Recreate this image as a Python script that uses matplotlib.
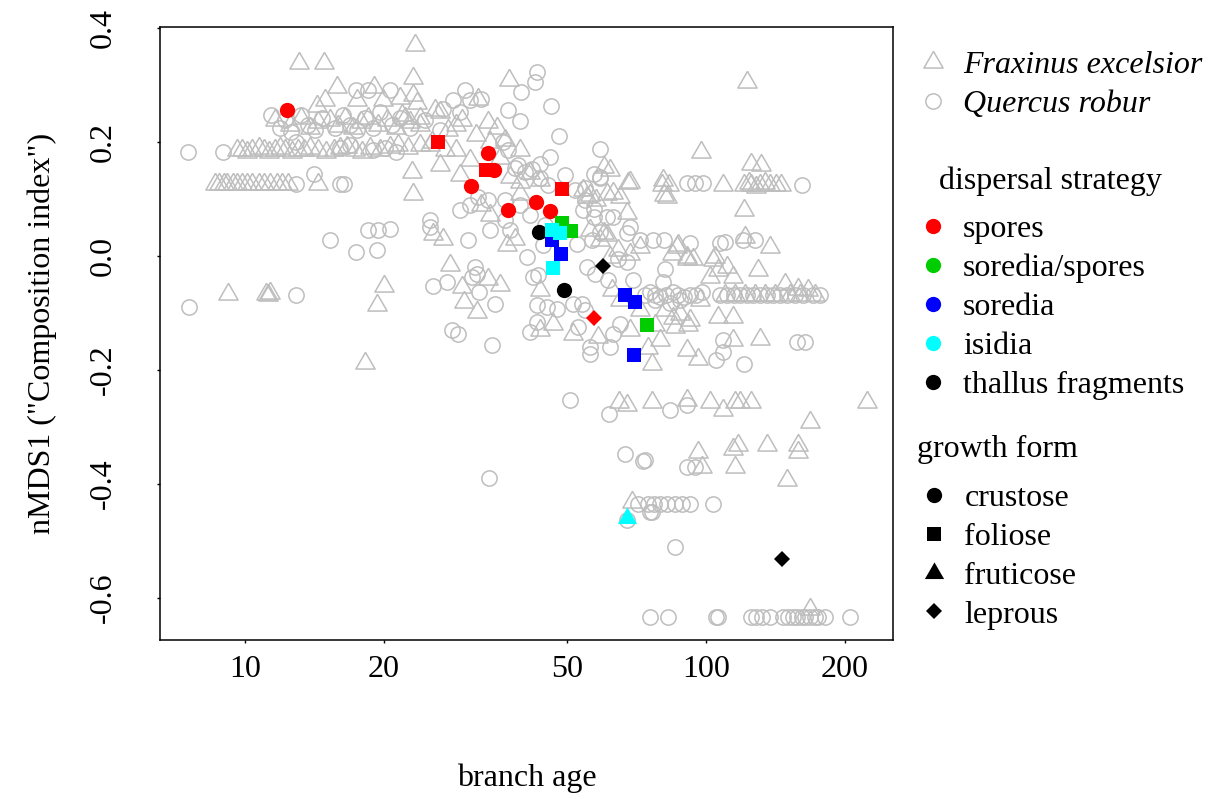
import matplotlib
matplotlib.use("Agg")
import matplotlib.pyplot as plt
from matplotlib.lines import Line2D
import numpy as np

plt.rcParams['font.family'] = ['Liberation Serif', 'DejaVu Serif']

# branch age / nMDS1 of every sampled branch, per tree species
fraxinus = [
    (13.1, .339), (14.8, .339), (23.4, .370), (15.8, .296), (19.0, .296), (37.4, .309),
    (23.1, .312), (23.1, .282), (14.9, .274), (14.3, .263), (17.5, .274), (19.9, .274),
    (21.7, .277), (23.6, .268),
    (22.2, .242), (24.0, .230), (26.5, .253), (27.6, .221), (29.6, .239), (31.6, .212),
    (35.2, .225), (36.7, .204), (25.2, .195), (28.6, .186), (30.8, .168), (35.7, .172),
    (39.5, .186), (23.0, .147), (23.1, .109), (26.5, .160), (34.0, .072), (39.5, .109),
    (43.6, .133), (32.4, .089), (29.3, .142), (32.0, .275), (33.6, .235), (34.0, .200),
    (25.8, .256), (28.6, .230),
    (11.6, .239), (12.5, .230), (13.2, .242), (13.8, .225), (14.4, .235), (15.3, .239),
    (15.9, .228), (16.5, .242), (17.1, .225), (17.8, .235), (18.5, .242), (19.4, .230),
    (20.3, .239), (21.2, .225), (21.9, .247), (22.8, .235), (24.0, .242),
    (9.6, .186), (9.85, .186), (10.1, .183), (10.35, .186), (10.7, .189), (11.0, .186),
    (11.25, .183), (11.6, .186), (11.9, .189), (12.2, .186), (12.65, .183), (13.05, .186),
    (13.4, .186), (13.8, .189), (14.4, .186), (15.0, .183), (15.6, .186), (16.1, .189),
    (16.6, .192), (17.3, .186), (17.9, .183), (18.7, .189), (19.6, .186), (20.6, .192),
    (21.5, .195), (22.6, .190), (24.0, .195), (25.4, .200), (27.2, .186),
    (8.6, .126), (8.8, .126), (9.0, .126), (9.15, .126), (9.4, .126), (9.6, .126),
    (9.85, .126), (10.1, .126), (10.35, .126), (10.7, .126), (11.0, .126), (11.3, .126),
    (11.7, .126), (12.0, .126), (12.4, .126), (14.4, .126),
    (9.2, -.067), (11.1, -.067), (11.2, -.068), (11.3, -.065), (20.0, -.053), (19.3, -.086),
    (18.2, -.188),
    (27.8, -.016), (29.6, -.054), (33.7, -.040), (35.7, -.051), (29.8, -.081), (31.9, -.098),
    (25.5, .039), (26.9, .030), (37.0, .019), (38.5, .030), (43.6, -.060), (46.6, -.119),
    (43.6, -.130), (51.5, -.137), (58.3, -.142), (58.9, .028), (61.0, .037), (68.4, .004),
    (71.9, .016), (64.8, -.256), (67.4, -.261), (69.0, -.432),
    (80.5, .133), (82.3, .104), (61.9, .151), (60.0, .156), (67.7, .128), (67.4, .075),
    (54.0, .116), (56.0, .107), (57.7, .098), (56.0, .046), (60.0, .040), (62.9, .111),
    (65.1, .104), (86.5, .016), (90.9, -.002), (103.5, -.007), (110.8, -.019), (61.9, -.002),
    (64.2, .011), (37.6, .139), (39.5, .130), (41.5, .146), (68.4, .130), (55.0, .104),
    (61.0, .109),
    (122.5, .305), (97.5, .182), (125.0, .161), (131.5, .160), (80.2, .125), (83.0, .125),
    (108.6, .125), (120.7, .125), (123.7, .128), (125.0, .125), (128.3, .122), (131.0, .125),
    (134.3, .128), (137.7, .125), (141.8, .125), (145.4, .125), (81.0, .107), (120.9, .081),
    (87.0, .019), (121.5, .033), (137.7, .016), (84.3, .004), (104.6, -.002), (93.7, -.005),
    (91.0, -.005), (106.1, -.025), (102.0, -.037), (114.0, -.037), (129.6, -.025),
    (148.4, -.049), (158.0, -.058), (166.5, -.060),
    (110.0, -.068), (115.6, -.068), (121.5, -.068), (127.7, -.068), (134.3, -.068),
    (141.1, -.068), (152.2, -.068), (160.0, -.068), (172.4, -.068),
    (81.5, -.095), (84.8, -.109), (87.8, -.102), (91.4, -.121), (85.7, -.125), (106.1, -.107),
    (114.0, -.107), (114.5, -.147), (130.9, -.146), (90.9, -.165), (95.9, -.181), (76.3, -.189),
    (76.3, -.256), (90.9, -.253), (102.0, -.256), (115.6, -.256), (118.5, -.256),
    (125.2, -.256), (223.4, -.256), (108.9, -.270), (168.1, -.291),
    (96.0, -.344), (114.0, -.339), (117.3, -.332), (135.6, -.332), (158.4, -.332),
    (158.4, -.344), (98.0, -.370), (115.6, -.370), (150.0, -.393), (168.1, -.619),
    (62.6, -.060), (65.1, -.077), (71.9, -.095), (77.5, -.121), (79.4, -.147), (74.8, -.161),
    (68.4, -.130), (97.0, -.077), (92.3, -.112),
]

quercus = [
    (7.52, .182), (8.95, .182), (7.56, -.089), (12.9, -.068), (15.3, .028), (17.4, .007),
    (19.3, .011), (18.5, .046), (19.4, .046), (20.6, .047),
    (17.4, .291), (18.5, .291), (20.6, .291), (43.0, .323), (42.6, .305), (39.7, .288),
    (46.1, .263), (37.2, .256), (39.5, .237), (48.0, .211), (58.9, .188), (57.1, .144),
    (58.9, .139), (30.0, .291), (28.3, .274), (30.8, .274), (32.4, .275), (26.9, .258),
    (11.4, .247), (11.9, .225), (12.2, .239), (12.6, .218), (13.2, .247), (13.7, .230),
    (14.2, .221), (14.7, .242), (15.7, .225), (16.3, .247), (16.9, .230), (17.5, .221),
    (18.2, .242), (18.9, .225), (19.6, .253), (20.8, .230), (21.7, .242), (22.8, .225),
    (24.6, .239), (26.5, .221), (29.3, .253),
    (16.1, .189), (16.9, .195), (18.9, .186), (20.1, .189), (21.2, .182), (12.9, .200),
    (12.9, .126), (14.1, .144), (16.1, .126), (16.4, .126),
    (36.3, .200), (37.2, .186), (39.1, .160), (41.8, .153), (43.6, .161), (45.9, .174),
    (25.2, .063), (25.2, .051), (29.3, .081), (32.0, .104), (33.7, .098), (57.1, .082),
    (61.0, .068), (68.4, .051),
    (31.5, -.019), (31.9, -.032), (31.0, -.037), (25.6, -.053), (27.4, -.046), (32.2, -.063),
    (34.9, -.084), (28.1, -.130), (29.0, -.137), (34.3, -.156), (50.7, -.253), (61.6, -.277),
    (42.0, -.037), (43.2, -.033), (43.0, -.086), (45.2, -.089), (47.5, -.093), (51.5, -.084),
    (53.8, -.084), (54.6, -.095), (43.0, -.116), (41.5, -.133), (52.8, -.125), (56.0, -.160),
    (56.0, -.172), (61.9, -.160), (62.9, -.137), (65.1, -.119), (69.4, -.042), (55.2, -.019),
    (57.4, -.032), (61.3, -.042), (64.2, -.005), (67.4, -.011), (52.5, .021), (56.6, .028),
    (58.9, .042), (40.9, -.002), (44.3, .019), (30.5, .028),
    (38.5, .154), (40.5, .147), (43.6, .137), (45.4, .125), (36.6, .098), (39.5, .089),
    (41.5, .072), (37.6, .046), (44.8, .054), (49.4, .142), (52.0, .116), (54.6, .098),
    (30.8, .089), (34.0, .046), (36.6, .063),
    (67.4, .040), (71.9, .028), (76.8, .028), (80.9, .028), (92.3, .023), (107.2, .023),
    (91.0, .128), (94.6, .128), (98.5, .128), (54.6, .119), (58.9, .137), (54.0, .081),
    (57.1, .068), (62.9, .068),
    (110.0, .025), (120.0, .028), (127.7, .028), (81.5, -.023), (80.7, -.046), (161.6, .125),
    (73.7, -.068), (75.6, -.064), (77.5, -.068), (79.4, -.072), (81.9, -.068), (84.7, -.064),
    (87.0, -.068), (89.5, -.072), (92.3, -.068), (95.0, -.068), (98.0, -.064),
    (107.2, -.068), (110.8, -.068), (115.0, -.068), (118.5, -.068), (122.7, -.068),
    (126.4, -.068), (130.9, -.068), (135.6, -.068), (139.7, -.068), (144.7, -.068),
    (150.0, -.068), (156.0, -.068), (162.4, -.068), (170.0, -.068), (176.7, -.068),
    (77.5, -.077), (83.5, -.082), (87.8, -.077),
    (108.6, -.147), (157.6, -.151), (164.0, -.151), (105.1, -.182), (108.6, -.168),
    (121.0, -.189), (83.5, -.270), (91.0, -.261),
    (91.0, -.370), (94.6, -.370), (73.7, -.358), (66.7, -.347), (73.0, -.360), (71.0, -.435),
    (74.8, -.435), (75.6, -.449), (67.4, -.463), (33.8, -.389),
    (77.0, -.435), (79.4, -.435), (82.3, -.435), (85.7, -.435), (88.7, -.435), (92.3, -.435),
    (103.2, -.435), (76.3, -.449), (85.7, -.511),
    (75.6, -.633), (82.8, -.633), (105.1, -.633), (106.1, -.633), (125.2, -.633),
    (128.3, -.633), (132.2, -.633), (137.7, -.633), (147.0, -.633), (150.6, -.633),
    (154.5, -.633), (157.6, -.633), (161.6, -.633), (164.0, -.633), (168.1, -.633),
    (172.4, -.633), (175.0, -.633), (181.2, -.633), (205.3, -.633),
]

# lichen species scores
species_age = [12.3, 26.2, 33.7, 33.3, 34.6, 30.9, 37.2, 42.8, 45.9, 48.7,
               48.7, 50.9, 46.3, 48.5, 43.4, 46.3, 48.2, 46.6, 59.8, 49.2,
               66.7, 70.1, 57.2, 74.5, 69.8, 67.3, 146.2]
species_nmds = [.256, .200, .181, .151, .151, .123, .081, .095, .079, .118,
                .058, .044, .028, .004, .042, .046, .040, -.021, -.018, -.060,
                -.068, -.081, -.109, -.121, -.174, -.460, -.532]
species_dispersal = ['spores', 'spores', 'spores', 'spores', 'spores', 'spores', 'spores',
                     'spores', 'spores', 'spores', 'soredia/spores', 'soredia/spores',
                     'soredia', 'soredia', 'thallus fragments', 'isidia', 'isidia', 'isidia',
                     'thallus fragments', 'thallus fragments', 'soredia', 'soredia', 'spores',
                     'soredia/spores', 'soredia', 'isidia', 'thallus fragments']
species_growth = ['crustose', 'foliose', 'crustose', 'foliose', 'crustose', 'crustose',
                  'crustose', 'crustose', 'crustose', 'foliose', 'foliose', 'foliose',
                  'foliose', 'foliose', 'crustose', 'foliose', 'foliose', 'foliose',
                  'leprous', 'crustose', 'foliose', 'foliose', 'leprous', 'foliose',
                  'foliose', 'fruticose', 'leprous']

dispersal_levels = ['spores', 'soredia/spores', 'soredia', 'isidia', 'thallus fragments']
growth_levels = ['crustose', 'foliose', 'fruticose', 'leprous']

dispersal_col = {'spores': '#FF0000', 'soredia/spores': '#00CD00', 'soredia': '#0000FF',
                 'isidia': '#00FFFF', 'thallus fragments': '#000000'}
# R-like equilateral triangle
tri = [(0, 1), (-0.866, -0.5), (0.866, -0.5), (0, 1)]
growth_mk = {'crustose': ('o', 11), 'foliose': ('s', 10), 'fruticose': (tri, 16),
             'leprous': ('D', 8.5)}

grey = '#BEBEBE'

fig = plt.figure(figsize=(12.14, 7.99), dpi=100)
ax = fig.add_axes([160 / 1214, 159 / 799, 733 / 1214, 613 / 799])

fx, fy = np.array(fraxinus).T
qx, qy = np.array(quercus).T
ax.plot(fx, fy, ls='none', marker=tri, ms=16, mfc='none', mec=grey, mew=1.1)
ax.plot(qx, qy, ls='none', marker='o', ms=11, mfc='none', mec=grey, mew=1.1)

for a, n, d, g in zip(species_age, species_nmds, species_dispersal, species_growth):
    mk, ms = growth_mk[g]
    ax.plot(a, n, ls='none', marker=mk, ms=ms, color=dispersal_col[d], mew=0)

ax.set_xscale('log')
ax.set_xlim(6.54, 254)
ax.set_ylim(-0.674, 0.402)
ax.set_xticks([10, 20, 50, 100, 200])
ax.set_xticklabels(['10', '20', '50', '100', '200'])
ax.xaxis.set_minor_locator(matplotlib.ticker.NullLocator())
yt = [-0.6, -0.4, -0.2, 0.0, 0.2, 0.4]
ax.set_yticks(yt)
ax.set_yticklabels(['%.1f' % v for v in yt], rotation=90, va='center')
ax.tick_params(axis='both', direction='out', length=2.5, width=1, labelsize=23)
ax.tick_params(axis='x', pad=8)
ax.tick_params(axis='y', pad=28)
for s in ax.spines.values():
    s.set_linewidth(1.1)

ax.set_xlabel('branch age', fontsize=23, va='center')
ax.xaxis.set_label_coords(0.5, (640 - 778) / 613)
ax.set_ylabel('nMDS1 ("Composition index")', fontsize=23, va='center')
ax.yaxis.set_label_coords((42 - 160) / 733, 0.5)

# legends
lkw = dict(frameon=False, loc='upper left', borderpad=0, borderaxespad=0,
           handlelength=1.0, handletextpad=0.44, labelspacing=0.30)

h1 = [Line2D([], [], ls='none', marker=tri, ms=16, mfc='none', mec=grey, mew=1.1),
      Line2D([], [], ls='none', marker='o', ms=11, mfc='none', mec=grey, mew=1.1)]
leg1 = fig.legend(h1, ['Fraxinus excelsior', 'Quercus robur'],
                  bbox_to_anchor=(917 / 1214, 1 - 51 / 799),
                  prop={'style': 'italic', 'size': 23}, **lkw)

h2 = [Line2D([], [], ls='none', marker='o', ms=11, color=dispersal_col[d], mew=0)
      for d in dispersal_levels]
leg2 = fig.legend(h2, dispersal_levels, title='dispersal strategy', title_fontsize=23,
                  fontsize=23, bbox_to_anchor=(917 / 1214, 1 - 166 / 799), **lkw)

h3 = [Line2D([], [], ls='none', marker=growth_mk[g][0], ms=growth_mk[g][1], color='black', mew=0)
      for g in growth_levels]
leg3 = fig.legend(h3, growth_levels, title='growth form', title_fontsize=23,
                  fontsize=23, bbox_to_anchor=(917 / 1214, 1 - 435 / 799), **lkw)

# a little more room between each legend title and its entries
for leg in (leg2, leg3):
    leg._legend_box.sep = 14

fig.savefig('out.png', dpi=100)
